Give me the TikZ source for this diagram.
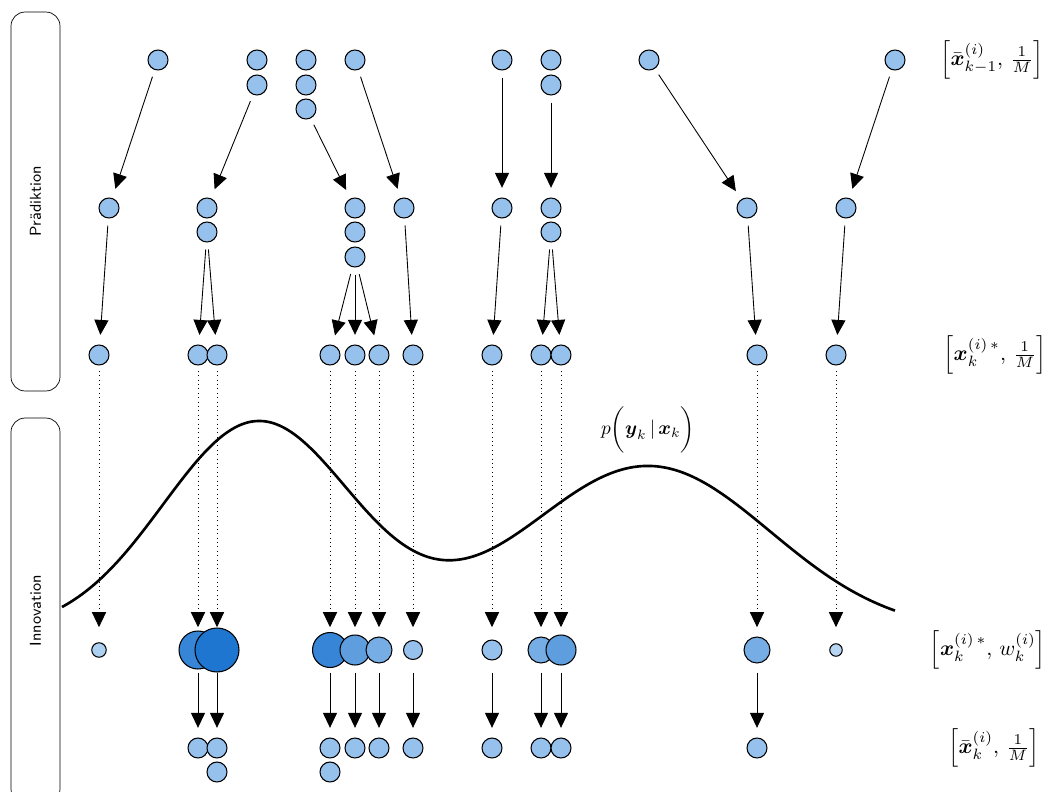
\documentclass[tikz,border=0pt]{standalone}
\usepackage{amsmath}
\usetikzlibrary{arrows.meta}

\definecolor{pdark}{RGB}{30,118,208}
\definecolor{plight}{RGB}{190,218,245}
\colorlet{pfill}{pdark!25!plight}

\tikzset{
	particle/.style={circle, draw, fill=pfill, minimum size=0.4cm, inner sep=0pt, line width=0.6pt},
	weighted/.style 2 args={circle, draw, fill=pdark!#2!plight, minimum size=#1, inner sep=0pt, line width=0.6pt},
	arr/.style={-{Triangle[length=8.5pt,width=8pt]}, line width=0.5pt, shorten <=4pt, shorten >=5.5pt},
	phasebox/.style={draw, rounded corners=8pt, rotate=90, minimum height=0.98cm, font=\sffamily\small},
	density/.style={line width=1.5pt},
	setlabel/.style={scale=1.22},
}

\begin{document}
\begin{tikzpicture}[x=0.02cm, y=-0.02cm]
		\useasboundingbox (0,0) rectangle (1058,791);
		
		\node[phasebox, minimum width=7.58cm] (praed) at (35.5,201.5) {Prädiktion};
		\node[phasebox, minimum width=7.7cm] (innov) at (35.5,610.5) {Innovation};
		
		% likelihood
		\draw[density] plot[domain=62:895, samples=150, smooth] (\x, {632 - 210*exp(-((\x-258)/95)^2/2) - 166*exp(-((\x-648)/122)^2/2)});
		\node[scale=1.1] (lik) at (648,430) {$p\bigg(\boldsymbol{y}_k \,|\, \boldsymbol{x}_k\bigg)$};
		
		% particles k-1
		\node[particle] (p1) at (158,60) {};
		\node[particle] (p2a) at (257,60) {};
		\node[particle] (p2b) at (257,85) {};
		\node[particle] (p3a) at (306,60) {};
		\node[particle] (p3b) at (306,85) {};
		\node[particle] (p3c) at (306,109) {};
		\node[particle] (p4) at (355,60) {};
		\node[particle] (p5) at (502,60) {};
		\node[particle] (p6a) at (551,60) {};
		\node[particle] (p6b) at (551,85) {};
		\node[particle] (p7) at (649,60) {};
		\node[particle] (p8) at (895,60) {};
		
		% predicted
		\node[particle] (q1) at (109,208) {};
		\node[particle] (q2a) at (207,208) {};
		\node[particle] (q2b) at (207,232) {};
		\node[particle] (q3a) at (355,208) {};
		\node[particle] (q3b) at (355,232) {};
		\node[particle] (q3c) at (355,257) {};
		\node[particle] (q4) at (404,208) {};
		\node[particle] (q5) at (502,208) {};
		\node[particle] (q6a) at (551,208) {};
		\node[particle] (q6b) at (551,232) {};
		\node[particle] (q7) at (747,208) {};
		\node[particle] (q8) at (846,208) {};
		
		\draw[arr] (p1) -- (q1);
		\draw[arr] (p2b) -- (q2a);
		\draw[arr] (p3c) -- (q3a);
		\draw[arr] (p4) -- (q4);
		\draw[arr] (p5) -- (q5);
		\draw[arr] (p6b) -- (q6a);
		\draw[arr] (p7) -- (q7);
		\draw[arr] (p8) -- (q8);
		
		% samples
		\node[particle] (r1) at (99,355) {};
		\node[particle] (r2) at (198,355) {};
		\node[particle] (r3) at (217,355) {};
		\node[particle] (r4) at (330,355) {};
		\node[particle] (r5) at (355,355) {};
		\node[particle] (r6) at (379,355) {};
		\node[particle] (r7) at (413,355) {};
		\node[particle] (r8) at (492,355) {};
		\node[particle] (r9) at (541,355) {};
		\node[particle] (r10) at (561,355) {};
		\node[particle] (r11) at (757,355) {};
		\node[particle] (r12) at (836,355) {};
		
		\draw[arr] (q1) -- (r1);
		\draw[arr] (q2b) -- (r2);
		\draw[arr] (q2b) -- (r3);
		\draw[arr] (q3c) -- (r4);
		\draw[arr] (q3c) -- (r5);
		\draw[arr] (q3c) -- (r6);
		\draw[arr] (q4) -- (r7);
		\draw[arr] (q5) -- (r8);
		\draw[arr] (q6b) -- (r9);
		\draw[arr] (q6b) -- (r10);
		\draw[arr] (q7) -- (r11);
		\draw[arr] (q8) -- (r12);
		
		% weights
		\node[weighted={0.29cm}{10}] (w1) at (99,650) {};
		\node[weighted={0.76cm}{85}] (w2) at (198,650) {};
		\node[weighted={0.88cm}{100}] (w3) at (217,650) {};
		\node[weighted={0.70cm}{85}] (w4) at (330,650) {};
		\node[weighted={0.60cm}{60}] (w5) at (355,650) {};
		\node[weighted={0.52cm}{45}] (w6) at (379,650) {};
		\node[weighted={0.38cm}{25}] (w7) at (413,650) {};
		\node[weighted={0.40cm}{25}] (w8) at (492,650) {};
		\node[weighted={0.52cm}{45}] (w9) at (541,650) {};
		\node[weighted={0.60cm}{60}] (w10) at (561,650) {};
		\node[weighted={0.52cm}{45}] (w11) at (757,650) {};
		\node[weighted={0.25cm}{5}] (w12) at (836,650) {};
		
		\draw[arr, dotted, shorten <=3pt, shorten >=13pt] (r1) -- (w1.center);
		\draw[arr, dotted, shorten <=3pt, shorten >=13pt] (r2) -- (w2.center);
		\draw[arr, dotted, shorten <=3pt, shorten >=13pt] (r3) -- (w3.center);
		\draw[arr, dotted, shorten <=3pt, shorten >=13pt] (r4) -- (w4.center);
		\draw[arr, dotted, shorten <=3pt, shorten >=13pt] (r5) -- (w5.center);
		\draw[arr, dotted, shorten <=3pt, shorten >=13pt] (r6) -- (w6.center);
		\draw[arr, dotted, shorten <=3pt, shorten >=13pt] (r7) -- (w7.center);
		\draw[arr, dotted, shorten <=3pt, shorten >=13pt] (r8) -- (w8.center);
		\draw[arr, dotted, shorten <=3pt, shorten >=13pt] (r9) -- (w9.center);
		\draw[arr, dotted, shorten <=3pt, shorten >=13pt] (r10) -- (w10.center);
		\draw[arr, dotted, shorten <=3pt, shorten >=13pt] (r11) -- (w11.center);
		\draw[arr, dotted, shorten <=3pt, shorten >=13pt] (r12) -- (w12.center);
		
		% resampled
		\node[particle] (s2) at (198,748) {};
		\node[particle] (s3a) at (217,748) {};
		\node[particle] (s3b) at (217,772) {};
		\node[particle] (s4a) at (330,748) {};
		\node[particle] (s4b) at (330,772) {};
		\node[particle] (s5) at (355,748) {};
		\node[particle] (s6) at (379,748) {};
		\node[particle] (s7) at (413,748) {};
		\node[particle] (s8) at (492,748) {};
		\node[particle] (s9) at (541,748) {};
		\node[particle] (s10) at (561,748) {};
		\node[particle] (s11) at (757,748) {};
		
		\draw[arr, shorten <=13pt] (w2.center) -- (s2);
		\draw[arr, shorten <=13pt] (w3.center) -- (s3a);
		\draw[arr, shorten <=13pt] (w4.center) -- (s4a);
		\draw[arr, shorten <=13pt] (w5.center) -- (s5);
		\draw[arr, shorten <=13pt] (w6.center) -- (s6);
		\draw[arr, shorten <=13pt] (w7.center) -- (s7);
		\draw[arr, shorten <=13pt] (w8.center) -- (s8);
		\draw[arr, shorten <=13pt] (w9.center) -- (s9);
		\draw[arr, shorten <=13pt] (w10.center) -- (s10);
		\draw[arr, shorten <=13pt] (w11.center) -- (s11);
		
		% labels
		\node[setlabel] (lab-prior) at (992,60) {$\left[\bar{\boldsymbol{x}}_{k-1}^{(i)},\, \frac{1}{M}\right]$};
		\node[setlabel] (lab-pred) at (995,355) {$\left[\boldsymbol{x}_{k}^{(i)\,*},\, \frac{1}{M}\right]$};
		\node[setlabel] (lab-weight) at (988,650) {$\left[\boldsymbol{x}_{k}^{(i)\,*},\, w_{k}^{(i)}\right]$};
		\node[setlabel] (lab-post) at (994,748) {$\left[\bar{\boldsymbol{x}}_{k}^{(i)},\, \frac{1}{M}\right]$};
	\end{tikzpicture}
\end{document}
